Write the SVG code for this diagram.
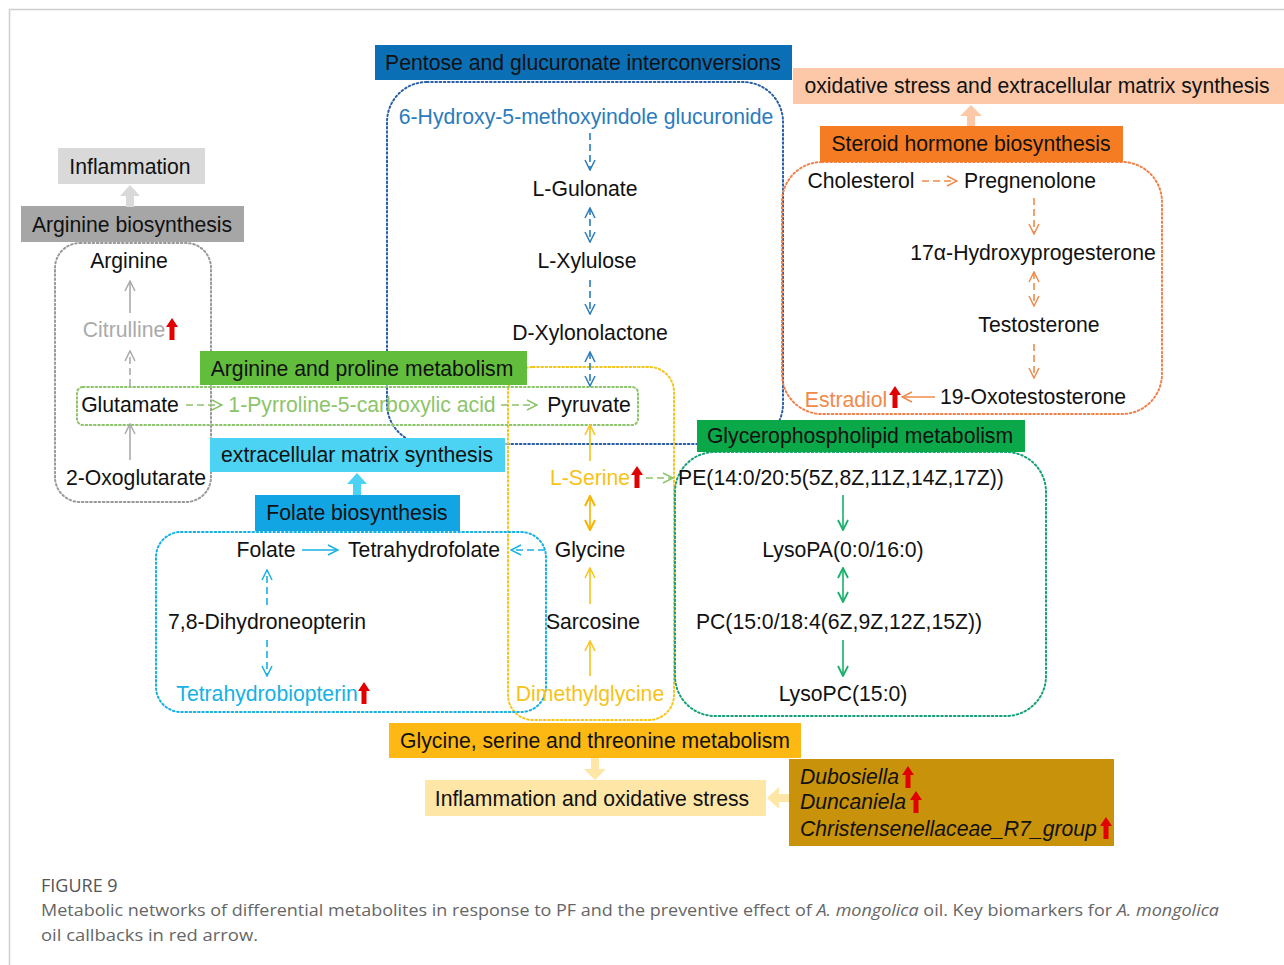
<svg xmlns="http://www.w3.org/2000/svg" width="1284" height="965" viewBox="0 0 1284 965">
<style>
text{font-family:"Liberation Sans",Arial,sans-serif;font-size:21.2px;fill:#111;text-anchor:middle}
.dot{fill:none;stroke-width:2;stroke-dasharray:1.6 2.6;stroke-linecap:round}
.cap{font-family:"Open Sans","Noto Sans",sans-serif;text-anchor:start;fill:#666;font-size:17px}
.ln{fill:none;stroke-width:1.6}
.ds{stroke-dasharray:7 4}
</style>
<defs>
<marker id="mGray" viewBox="0 0 12 12" refX="11" refY="6" markerWidth="12" markerHeight="12" markerUnits="userSpaceOnUse" orient="auto-start-reverse"><path d="M1,1 L11,6 L1,11" fill="none" stroke="#aaa" stroke-width="1.5"/></marker>
<marker id="mGreenL" viewBox="0 0 12 12" refX="11" refY="6" markerWidth="12" markerHeight="12" markerUnits="userSpaceOnUse" orient="auto-start-reverse"><path d="M1,1 L11,6 L1,11" fill="none" stroke="#8cc46a" stroke-width="1.5"/></marker>
<marker id="mBlue" viewBox="0 0 12 12" refX="11" refY="6" markerWidth="12" markerHeight="12" markerUnits="userSpaceOnUse" orient="auto-start-reverse"><path d="M1,1 L11,6 L1,11" fill="none" stroke="#2b7bbd" stroke-width="1.5"/></marker>
<marker id="mCyan" viewBox="0 0 12 12" refX="11" refY="6" markerWidth="12" markerHeight="12" markerUnits="userSpaceOnUse" orient="auto-start-reverse"><path d="M1,1 L11,6 L1,11" fill="none" stroke="#17b1e3" stroke-width="1.5"/></marker>
<marker id="mOr" viewBox="0 0 12 12" refX="11" refY="6" markerWidth="12" markerHeight="12" markerUnits="userSpaceOnUse" orient="auto-start-reverse"><path d="M1,1 L11,6 L1,11" fill="none" stroke="#f08a4b" stroke-width="1.5"/></marker>
<marker id="mTeal" viewBox="0 0 12 12" refX="11" refY="6" markerWidth="12" markerHeight="12" markerUnits="userSpaceOnUse" orient="auto-start-reverse"><path d="M1,1 L11,6 L1,11" fill="none" stroke="#16b069" stroke-width="1.8"/></marker>
<marker id="mYel" viewBox="0 0 12 12" refX="11" refY="6" markerWidth="12" markerHeight="12" markerUnits="userSpaceOnUse" orient="auto-start-reverse"><path d="M1,1 L11,6 L1,11" fill="none" stroke="#f6c31a" stroke-width="1.5"/></marker>
<marker id="mGold" viewBox="0 0 12 12" refX="11" refY="6" markerWidth="12" markerHeight="12" markerUnits="userSpaceOnUse" orient="auto-start-reverse"><path d="M1,1 L11,6 L1,11" fill="none" stroke="#f5b400" stroke-width="2"/></marker>
<symbol id="red" viewBox="0 0 12 22" width="12" height="22"><polygon points="3.5,22 8.5,22 8.5,9 12,9 6,0 0,9 3.5,9" fill="#e00000"/></symbol>
</defs>
<rect width="1284" height="965" fill="#fff"/>
<path d="M9.5,965 V9.5 H1284" fill="none" stroke="#cfcfcf" stroke-width="1.5"/>

<g id="outlines">
<rect class="dot" x="55" y="243" width="156" height="259" rx="25" stroke="#999"/>
<rect class="dot" x="387" y="82" width="396" height="362" rx="40" stroke="#2a5fa5"/>
<rect class="dot" x="782" y="162" width="380" height="252" rx="40" stroke="#f0814a"/>
<rect class="dot" x="508" y="367" width="166" height="353" rx="25" stroke="#f5c518"/>
<rect class="dot" x="77" y="387" width="561" height="38" rx="6" stroke="#8cc46a"/>
<rect class="dot" x="156" y="532" width="390" height="180" rx="25" stroke="#17b1e3"/>
<rect class="dot" x="675" y="452" width="371" height="264" rx="40" stroke="#16a07a"/>
</g>

<g id="h-inflammation"><rect x="58" y="148" width="147" height="36" fill="#d9d9d9"/><text x="130" y="174">Inflammation</text></g>
<g id="h-argbio"><rect x="21" y="206" width="223" height="36" fill="#a6a6a6"/><text x="132" y="232">Arginine biosynthesis</text></g>
<g id="h-argpro"><rect x="200" y="351" width="327" height="34" fill="#62bd3c"/><text x="362" y="376">Arginine and proline metabolism</text></g>
<g id="h-ecm"><rect x="210" y="438" width="295" height="34" fill="#4cd3f3"/><text x="357" y="462">extracellular matrix synthesis</text></g>
<g id="h-folate"><rect x="255" y="495" width="205" height="36" fill="#12a5e3"/><text x="357" y="520">Folate biosynthesis</text></g>
<g id="h-pentose"><rect x="375" y="45" width="417" height="35" fill="#0b6fb6"/><text x="583" y="70">Pentose and glucuronate interconversions</text></g>
<g id="h-oxi"><rect x="793" y="68" width="491" height="36" fill="#fcc8a8"/><text x="1037" y="93">oxidative stress and extracellular matrix synthesis</text></g>
<g id="h-steroid"><rect x="820" y="126" width="303" height="36" fill="#f57c22"/><text x="971" y="151">Steroid hormone biosynthesis</text></g>
<g id="h-glycero"><rect x="697" y="420" width="328" height="32" fill="#0ba84a"/><text x="860" y="443">Glycerophospholipid metabolism</text></g>
<g id="h-gly"><rect x="389" y="723" width="412" height="35" fill="#fdb813"/><text x="595" y="748">Glycine, serine and threonine metabolism</text></g>
<g id="h-inflox"><rect x="425" y="780" width="341" height="36" fill="#fee6a6"/><text x="592" y="806">Inflammation and oxidative stress</text></g>
<g id="h-bact"><rect x="789" y="759" width="325" height="87" fill="#c8920a"/>
<text x="800" y="784" style="text-anchor:start;font-style:italic">Dubosiella</text>
<text x="800" y="809" style="text-anchor:start;font-style:italic">Duncaniela</text>
<text x="800" y="836" style="text-anchor:start;font-style:italic">Christensenellaceae_R7_group</text>
<use href="#red" x="902" y="766"/><use href="#red" x="910" y="791"/><use href="#red" x="1100" y="817"/>
</g>

<g id="n-arginine"><text x="129" y="268">Arginine</text></g>
<g id="n-citrulline"><text x="124" y="337" style="fill:#aaa">Citrulline</text><use href="#red" x="166" y="318"/></g>
<g id="n-glutamate"><text x="130" y="412">Glutamate</text></g>
<g id="n-oxoglut"><text x="136" y="485">2-Oxoglutarate</text></g>
<g id="n-p5c"><text x="362" y="412" style="fill:#8cc46a">1-Pyrroline-5-carboxylic acid</text></g>
<g id="n-pyruvate"><text x="589" y="412">Pyruvate</text></g>
<g id="n-hmig"><text x="586" y="124" style="fill:#2b7bbd">6-Hydroxy-5-methoxyindole glucuronide</text></g>
<g id="n-gulonate"><text x="585" y="196">L-Gulonate</text></g>
<g id="n-xylulose"><text x="587" y="268">L-Xylulose</text></g>
<g id="n-dxyl"><text x="590" y="340">D-Xylonolactone</text></g>
<g id="n-chol"><text x="861" y="188">Cholesterol</text></g>
<g id="n-preg"><text x="1030" y="188">Pregnenolone</text></g>
<g id="n-17oh"><text x="1033" y="260">17α-Hydroxyprogesterone</text></g>
<g id="n-testo"><text x="1039" y="332">Testosterone</text></g>
<g id="n-19oxo"><text x="1033" y="404">19-Oxotestosterone</text></g>
<g id="n-estradiol"><text x="846" y="407" style="fill:#f08a4b">Estradiol</text><use href="#red" x="889" y="386"/></g>
<g id="n-serine"><text x="590" y="485" style="fill:#f6c31a">L-Serine</text><use href="#red" x="631" y="466"/></g>
<g id="n-glycine"><text x="590" y="557">Glycine</text></g>
<g id="n-sarcosine"><text x="593" y="629">Sarcosine</text></g>
<g id="n-dmg"><text x="590" y="701" style="fill:#f6c31a">Dimethylglycine</text></g>
<g id="n-folate"><text x="266" y="557">Folate</text></g>
<g id="n-thf"><text x="424" y="557">Tetrahydrofolate</text></g>
<g id="n-dhn"><text x="267" y="629">7,8-Dihydroneopterin</text></g>
<g id="n-bh4"><text x="267" y="701" style="fill:#17b1e3">Tetrahydrobiopterin</text><use href="#red" x="358" y="682"/></g>
<g id="n-pe"><text x="841" y="485">PE(14:0/20:5(5Z,8Z,11Z,14Z,17Z))</text></g>
<g id="n-lpa"><text x="843" y="557">LysoPA(0:0/16:0)</text></g>
<g id="n-pc"><text x="839" y="629">PC(15:0/18:4(6Z,9Z,12Z,15Z))</text></g>
<g id="n-lpc"><text x="843" y="701">LysoPC(15:0)</text></g>

<g id="connectors">
<polygon points="126,207 134,207 134,196 140,196 130,185 120,196 126,196" fill="#d9d9d9"/>
<polygon points="353,495 361,495 361,484 367,484 357,473 347,484 353,484" fill="#4cd3f3"/>
<polygon points="967,126 975,126 975,116 982,116 971,105 960,116 967,116" fill="#fcc8a8"/>
<polygon points="591,758 599,758 599,769 606,769 595,780 584,769 591,769" fill="#fee6a6"/>
<polygon points="789,794 789,802 779,802 779,809 767,798 779,787 779,794" fill="#fee6a6"/>
<line class="ln" x1="130" y1="313" x2="130" y2="281" stroke="#aaa" marker-end="url(#mGray)"/>
<line class="ln ds" x1="130" y1="386" x2="130" y2="351" stroke="#aaa" marker-end="url(#mGray)"/>
<line class="ln" x1="130" y1="460" x2="130" y2="424" stroke="#aaa" marker-end="url(#mGray)"/>
<line class="ln ds" x1="186" y1="405" x2="222" y2="405" stroke="#8cc46a" marker-end="url(#mGreenL)"/>
<line class="ln ds" x1="501" y1="405" x2="537" y2="405" stroke="#8cc46a" marker-end="url(#mGreenL)"/>
<line class="ln ds" x1="590" y1="133" x2="590" y2="170" stroke="#2b7bbd" marker-end="url(#mBlue)"/>
<line class="ln ds" x1="590" y1="208" x2="590" y2="242" stroke="#2b7bbd" marker-start="url(#mBlue)" marker-end="url(#mBlue)"/>
<line class="ln ds" x1="590" y1="280" x2="590" y2="314" stroke="#2b7bbd" marker-end="url(#mBlue)"/>
<line class="ln ds" x1="590" y1="352" x2="590" y2="386" stroke="#2b7bbd" marker-start="url(#mBlue)" marker-end="url(#mBlue)"/>
<line class="ln ds" x1="922" y1="181" x2="957" y2="181" stroke="#f08a4b" marker-end="url(#mOr)"/>
<line class="ln ds" x1="1034" y1="198" x2="1034" y2="234" stroke="#f08a4b" marker-end="url(#mOr)"/>
<line class="ln ds" x1="1034" y1="272" x2="1034" y2="306" stroke="#f08a4b" marker-start="url(#mOr)" marker-end="url(#mOr)"/>
<line class="ln ds" x1="1034" y1="344" x2="1034" y2="378" stroke="#f08a4b" marker-end="url(#mOr)"/>
<line class="ln" x1="935" y1="397" x2="902" y2="397" stroke="#f08a4b" marker-end="url(#mOr)"/>
<line class="ln" x1="590" y1="461" x2="590" y2="425" stroke="#f6c31a" marker-end="url(#mYel)"/>
<line class="ln" x1="590" y1="496" x2="590" y2="530" stroke="#f5b400" stroke-width="2.2" marker-start="url(#mGold)" marker-end="url(#mGold)"/>
<line class="ln" x1="590" y1="604" x2="590" y2="568" stroke="#f6c31a" marker-end="url(#mYel)"/>
<line class="ln" x1="590" y1="676" x2="590" y2="641" stroke="#f6c31a" marker-end="url(#mYel)"/>
<line class="ln ds" x1="646" y1="478" x2="673" y2="478" stroke="#8cc46a" marker-end="url(#mGreenL)"/>
<line class="ln" x1="302" y1="550" x2="338" y2="550" stroke="#17b1e3" stroke-width="2" marker-end="url(#mCyan)"/>
<line class="ln ds" x1="545" y1="550" x2="511" y2="550" stroke="#17b1e3" stroke-width="2" marker-end="url(#mCyan)"/>
<line class="ln ds" x1="267" y1="605" x2="267" y2="570" stroke="#17b1e3" stroke-width="2" marker-end="url(#mCyan)"/>
<line class="ln ds" x1="267" y1="640" x2="267" y2="676" stroke="#17b1e3" stroke-width="2" marker-end="url(#mCyan)"/>
<line class="ln" x1="843" y1="495" x2="843" y2="530" stroke="#16b069" stroke-width="2" marker-end="url(#mTeal)"/>
<line class="ln" x1="843" y1="568" x2="843" y2="602" stroke="#16b069" stroke-width="2" marker-start="url(#mTeal)" marker-end="url(#mTeal)"/>
<line class="ln" x1="843" y1="640" x2="843" y2="676" stroke="#16b069" stroke-width="2" marker-end="url(#mTeal)"/>
</g>

<g id="caption">
<text class="cap" x="41" y="892" style="fill:#555;font-size:18px">FIGURE 9</text>
<text class="cap" x="41" y="916" textLength="1178" lengthAdjust="spacingAndGlyphs">Metabolic networks of differential metabolites in response to PF and the preventive effect of <tspan font-style="italic">A. mongolica</tspan> oil. Key biomarkers for <tspan font-style="italic">A. mongolica</tspan></text>
<text class="cap" x="41" y="941" textLength="217" lengthAdjust="spacingAndGlyphs">oil callbacks in red arrow.</text>
</g>
</svg>
